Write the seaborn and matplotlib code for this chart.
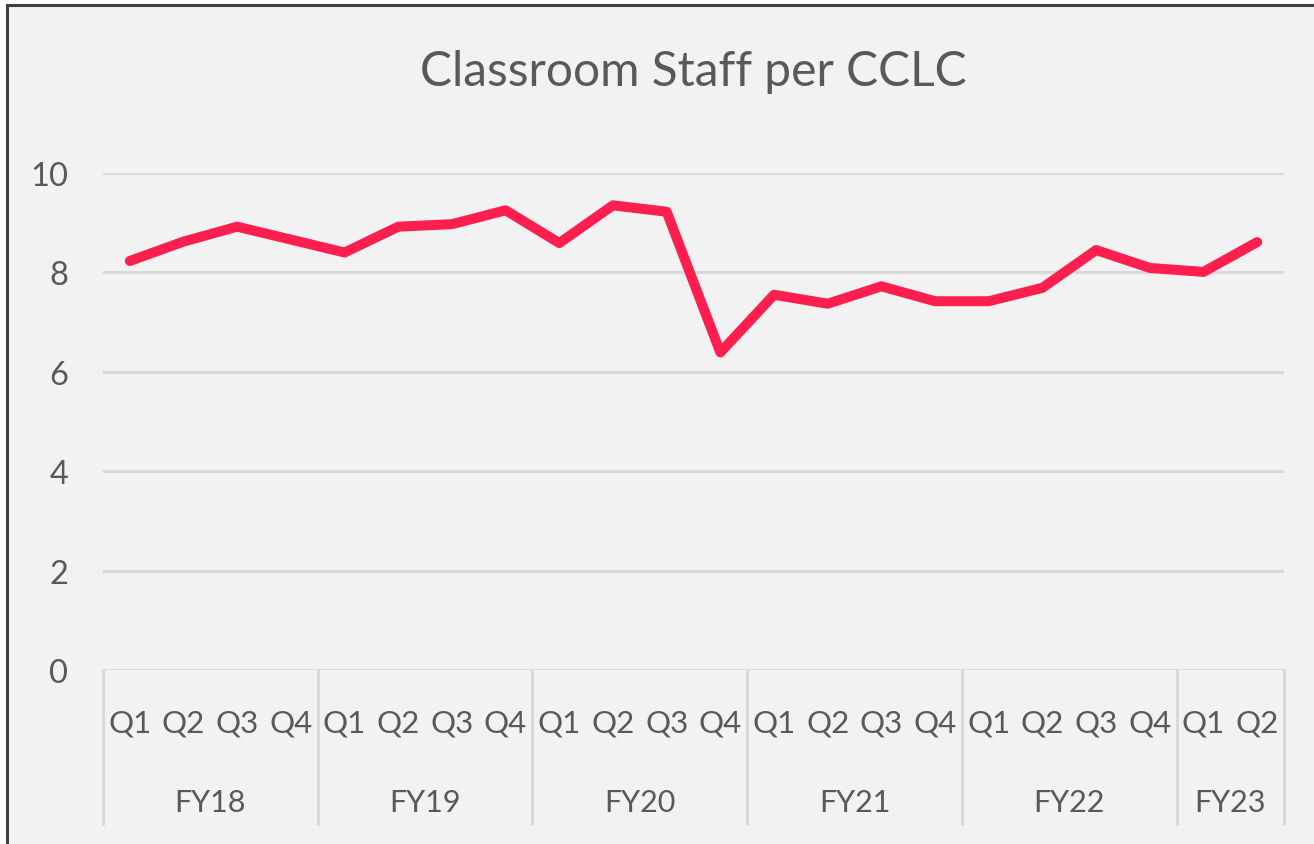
import numpy as np
import pandas as pd
import seaborn as sns
import matplotlib.pyplot as plt
import matplotlib.transforms as mtransforms
from matplotlib.patches import Rectangle


fiscal_years = ["FY18", "FY19", "FY20", "FY21", "FY22", "FY23"]
quarters_per_year = [4, 4, 4, 4, 4, 2]
quarter_labels = ["Q1", "Q2", "Q3", "Q4"] * 5 + ["Q1", "Q2"]
staff_per_cclc = [8.23, 8.62, 8.92, 8.66,
                  8.40, 8.92, 8.97, 9.25,
                  8.59, 9.35, 9.22, 6.39,
                  7.55, 7.37, 7.72, 7.42,
                  7.42, 7.69, 8.45, 8.09,
                  8.01, 8.61]
y_ticks = [0, 2, 4, 6, 8, 10]

TEXT = "#595959"
GRID = "#D9D9D9"
BG = "#F2F2F2"
LINE = "#FF1F4F"


def main():
    sns.set_theme(style="white")
    plt.rcParams["font.family"] = ["Lato", "DejaVu Sans"]

    W, H = 1314, 845
    fig = plt.figure(figsize=(W / 100, H / 100), dpi=100)
    fig.patch.set_facecolor("white")
    # chart frame (dark border on left/top, grey fill)
    frame = Rectangle((7 / W, -0.1), 1.2, (H - 6) / H + 0.1, transform=fig.transFigure,
                      facecolor=BG, edgecolor="#404040", lw=2.2, zorder=-1)
    fig.add_artist(frame)

    ax = fig.add_axes([103 / W, 174 / H, 1181 / W, 497 / H])
    ax.set_facecolor("none")

    df = pd.DataFrame({"pos": np.arange(len(staff_per_cclc)), "value": staff_per_cclc})
    sns.lineplot(data=df, x="pos", y="value", ax=ax, color=LINE, lw=7.2,
                 solid_capstyle="round", solid_joinstyle="round", zorder=3)

    n = len(staff_per_cclc)
    ax.set_xlim(-0.5, n - 0.5)
    ax.set_ylim(0, 10)
    ax.set_yticks(y_ticks)
    ax.set_yticklabels([str(t) for t in y_ticks])
    ax.grid(axis="y", color=GRID, lw=2.2)
    ax.grid(axis="x", visible=False)
    ax.set_axisbelow(True)
    for s in ax.spines.values():
        s.set_visible(False)
    ax.set_xlabel("")
    ax.set_ylabel("")

    ax.set_xticks(np.arange(n))
    ax.set_xticklabels(quarter_labels)
    ax.tick_params(axis="x", length=0, pad=28, labelsize=22.5, labelcolor=TEXT)
    ax.tick_params(axis="y", length=0, pad=25, labelsize=23.5, labelcolor=TEXT)

    # fiscal-year grouping below quarters
    trans = mtransforms.blended_transform_factory(ax.transData, ax.transAxes)
    bounds = np.cumsum([0] + quarters_per_year) - 0.5
    for b in bounds:
        ax.plot([b, b], [0, -0.31], transform=trans, color=GRID, lw=2.2, clip_on=False)
    for fy, start, cnt in zip(fiscal_years, bounds[:-1], quarters_per_year):
        ax.text(start + cnt / 2, -0.265, fy, transform=trans, ha="center", va="center",
                fontsize=22, color=TEXT)

    fig.text((103 + 1284) / 2 / W, 1 - 72 / H, "Classroom Staff per CCLC",
             ha="center", va="center", fontsize=34.5, color=TEXT)

    fig.savefig("out.png", dpi=100)


if __name__ == '__main__':
    main()
